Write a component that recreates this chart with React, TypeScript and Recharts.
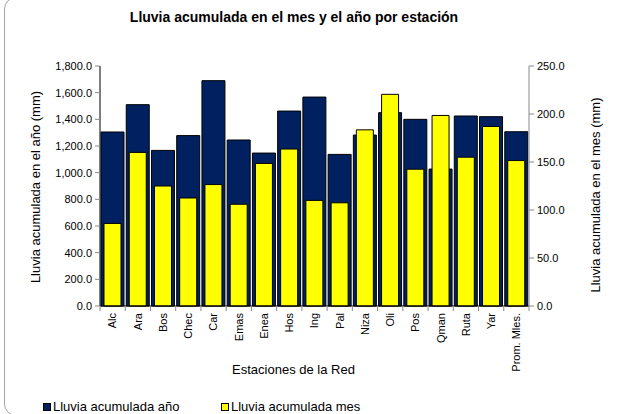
import React from 'react';
import { BarChart, Bar, XAxis, YAxis } from 'recharts';

const stations = ['Alc', 'Ara', 'Bos', 'Chec', 'Car', 'Emas', 'Enea', 'Hos', 'Ing', 'Pal', 'Niza', 'Oli', 'Pos', 'Qman', 'Ruta', 'Yar', 'Prom. Mles.'];
const rainYear = [1305, 1510, 1167, 1278, 1690, 1245, 1147, 1462, 1567, 1137, 1282, 1450, 1400, 1027, 1425, 1420, 1307];
const rainMonth = [86, 160, 125, 112.5, 126.5, 106, 148.5, 163.5, 110, 107.5, 183.5, 220.5, 142.5, 198.5, 155, 187, 151.5];
const leftTicks = [0, 200, 400, 600, 800, 1000, 1200, 1400, 1600, 1800];
const rightTicks = [0, 50, 100, 150, 200, 250];

const data = stations.map((name, i) => ({ name, year: rainYear[i], month: rainMonth[i] }));

const FONT = '"Liberation Sans", Arial, sans-serif';
const PLOT_LEFT = 100;
const PLOT_RIGHT = 529;
const BAND = (PLOT_RIGHT - PLOT_LEFT) / stations.length;

const fmt = (v: number) => v.toLocaleString('en-US', { minimumFractionDigits: 1, maximumFractionDigits: 1 });

const XTick = (props: any) => {
  const { x, y, payload, index } = props;
  const half = BAND / 2;
  return (
    <g>
      <line x1={x - half} y1={y - 7} x2={x - half} y2={y - 2} stroke="#888" />
      {index === stations.length - 1 && (
        <line x1={x + half} y1={y - 7} x2={x + half} y2={y - 2} stroke="#888" />
      )}
      <text
        x={x}
        y={y}
        transform={`rotate(-90, ${x}, ${y})`}
        textAnchor="end"
        dy="0.35em"
        fontSize={11}
        fill="#000"
        fontFamily={FONT}
      >
        {payload.value}
      </text>
    </g>
  );
};

export default function App() {
  return (
    <div style={{ position: 'absolute', left: 0, top: 0, width: 619, height: 414, background: '#fff', overflow: 'hidden', fontFamily: FONT }}>
      <div style={{ position: 'absolute', left: 4, top: -3, width: 700, height: 419, border: '1px solid #a6a6a6', borderRadius: 12, boxSizing: 'border-box' }} />
      <div style={{ position: 'absolute', left: 0, top: 9, width: 588, textAlign: 'center', fontSize: 14, fontWeight: 'bold', color: '#000' }}>
        Lluvia acumulada en el mes y el año por estación
      </div>
      <div style={{ position: 'absolute', left: 0, top: 0 }}>
        <BarChart width={619} height={414} data={data} margin={{ top: 66, right: 0, left: 0, bottom: 0 }} style={{ fontFamily: FONT }}>
          <XAxis
            xAxisId="a"
            dataKey="name"
            height={108}
            interval={0}
            tickLine={false}
            tickSize={5}
            tickMargin={2}
            axisLine={{ stroke: '#000' }}
            tick={<XTick />}
            label={{ value: 'Estaciones de la Red', position: 'insideBottom', offset: 40, dx: -21, fontSize: 13, fill: '#000' }}
          />
          <XAxis xAxisId="b" dataKey="name" hide />
          <YAxis
            yAxisId="left"
            width={100}
            domain={[0, 1800]}
            ticks={leftTicks}
            interval={0}
            tickFormatter={fmt}
            tick={{ fontSize: 11, fill: '#000' }}
            tickSize={5}
            tickMargin={3}
            tickLine={{ stroke: '#888' }}
            axisLine={{ stroke: '#000' }}
            label={{ value: 'Lluvia acumulada en el año (mm)', angle: -90, position: 'center', dx: -15, dy: 1, fontSize: 13, fill: '#000' }}
          />
          <YAxis
            yAxisId="right"
            orientation="right"
            width={90}
            domain={[0, 250]}
            ticks={rightTicks}
            interval={0}
            tickFormatter={fmt}
            tick={{ fontSize: 11, fill: '#000' }}
            tickSize={5}
            tickMargin={3}
            tickLine={{ stroke: '#888' }}
            axisLine={{ stroke: '#888' }}
            label={{ value: 'Lluvia acumulada en el mes (mm)', angle: -90, position: 'center', dx: 21, dy: 9, fontSize: 13, fill: '#000' }}
          />
          <Bar xAxisId="a" yAxisId="left" dataKey="year" fill="#002060" stroke="#000" strokeWidth={1} barSize={23} isAnimationActive={false} />
          <Bar xAxisId="b" yAxisId="right" dataKey="month" fill="#FFFF00" stroke="#000" strokeWidth={1} barSize={17} isAnimationActive={false} />
        </BarChart>
      </div>
      <div style={{ position: 'absolute', left: 43, top: 399, display: 'flex', alignItems: 'center', fontSize: 13, color: '#000' }}>
        <span style={{ display: 'inline-block', width: 6, height: 6, background: '#002060', border: '1px solid #000', marginRight: 2 }} />
        <span>Lluvia acumulada año</span>
      </div>
      <div style={{ position: 'absolute', left: 221, top: 399, display: 'flex', alignItems: 'center', fontSize: 13, color: '#000' }}>
        <span style={{ display: 'inline-block', width: 6, height: 6, background: '#FFFF00', border: '1px solid #000', marginRight: 2 }} />
        <span>Lluvia acumulada mes</span>
      </div>
    </div>
  );
}
